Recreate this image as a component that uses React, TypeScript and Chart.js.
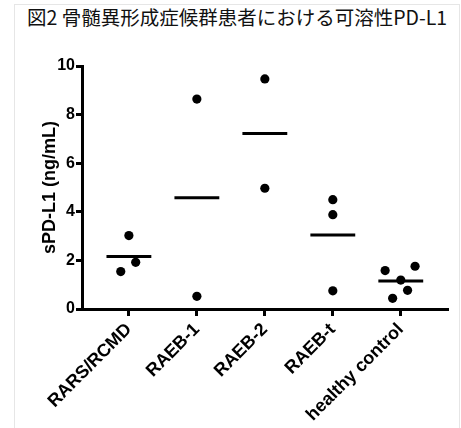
import { useEffect, useRef } from 'react';
import { Chart, registerables } from 'chart.js';

Chart.register(...registerables);

const titleText = '図2 骨髄異形成症候群患者における可溶性PD-L1';
const yAxisTitle = 'sPD-L1 (ng/mL)';
const categories = ['RARS/RCMD', 'RAEB-1', 'RAEB-2', 'RAEB-t', 'healthy control'];
const yTicks = [0, 2, 4, 6, 8, 10];

const rarsValues = [3.02, 1.54, 1.92];
const raeb1Values = [8.64, 0.52];
const raeb2Values = [9.47, 4.97];
const raebtValues = [4.5, 3.88, 0.75];
const healthyValues = [1.58, 1.76, 1.19, 0.77, 0.44];

// horizontal spread of dots within a group (category units)
const rarsJitter = [0, -0.12, 0.1];
const raeb1Jitter = [0, 0];
const raeb2Jitter = [0, 0];
const raebtJitter = [0, 0, 0];
const healthyJitter = [-0.23, 0.21, 0, 0.1, -0.12];

const groups = [
  { values: rarsValues, jitter: rarsJitter },
  { values: raeb1Values, jitter: raeb1Jitter },
  { values: raeb2Values, jitter: raeb2Jitter },
  { values: raebtValues, jitter: raebtJitter },
  { values: healthyValues, jitter: healthyJitter },
];

const FONT = "'Liberation Sans', Arial, sans-serif";

export default function App() {
  const ref = useRef<HTMLCanvasElement | null>(null);

  useEffect(() => {
    if (!ref.current) return;
    const points: { x: number; y: number }[] = [];
    groups.forEach((g, i) => {
      g.values.forEach((v, j) => points.push({ x: i + g.jitter[j], y: v }));
    });
    const meanSets = groups.map((g, i) => {
      const m = g.values.reduce((a, b) => a + b, 0) / g.values.length;
      return {
        type: 'scatter' as const,
        data: [
          { x: i - 0.33, y: m },
          { x: i + 0.33, y: m },
        ],
        showLine: true,
        borderColor: '#000',
        borderWidth: 3,
        pointRadius: 0,
        pointHoverRadius: 0,
      };
    });

    const chart = new Chart(ref.current, {
      type: 'scatter',
      data: {
        datasets: [
          {
            data: points,
            backgroundColor: '#000',
            borderWidth: 0,
            pointRadius: 4.6,
          },
          ...meanSets,
        ],
      },
      options: {
        animation: false,
        responsive: false,
        layout: { padding: { top: 66, right: 14, bottom: 0, left: 0 } },
        plugins: {
          legend: { display: false },
          tooltip: { enabled: false },
          title: { display: false },
        },
        scales: {
          x: {
            type: 'linear',
            min: -0.69,
            max: 4.68,
            afterBuildTicks: (s: any) => {
              s.ticks = categories.map((_, i) => ({ value: i }));
            },
            afterFit: (s: any) => {
              s.height = 119;
            },
            ticks: {
              autoSkip: false,
              minRotation: 45,
              maxRotation: 45,
              color: '#000',
              padding: 3,
              font: { family: FONT, size: 18, weight: 'bold' },
              callback: (v: any) => categories[Math.round(Number(v))] ?? '',
            },
            grid: {
              display: true,
              drawOnChartArea: false,
              drawTicks: true,
              tickLength: 7,
              lineWidth: 3,
              color: '#000',
            },
            border: { display: true, width: 3, color: '#000' },
          },
          y: {
            type: 'linear',
            min: 0,
            max: 10,
            afterBuildTicks: (s: any) => {
              s.ticks = yTicks.map((v) => ({ value: v }));
            },
            afterFit: (s: any) => {
              s.width = 82;
            },
            ticks: {
              color: '#000',
              padding: 1,
              font: { family: FONT, size: 16, weight: 'bold' },
            },
            grid: {
              display: true,
              drawOnChartArea: false,
              drawTicks: true,
              tickLength: 6,
              lineWidth: 3,
              color: '#000',
            },
            border: { display: true, width: 3, color: '#000' },
            title: {
              display: true,
              text: yAxisTitle,
              color: '#000',
              font: { family: FONT, size: 18, weight: 'bold' },
              padding: { top: 39, bottom: 0 },
            },
          },
        },
      },
    });
    return () => chart.destroy();
  }, []);

  return (
    <div style={{ position: 'fixed', left: 0, top: 0, width: 461, height: 428, background: '#fff' }}>
      <div
        style={{
          position: 'absolute',
          left: 14,
          top: 4,
          width: 444,
          height: 440,
          borderLeft: '1px solid #e6e6e6',
          borderTop: '1px solid #e6e6e6',
          borderRight: '1px solid #e6e6e6',
        }}
      />
      <div
        style={{
          position: 'absolute',
          left: 27,
          top: 5,
          lineHeight: '24px',
          fontSize: '19.5px',
          whiteSpace: 'nowrap',
          color: '#111',
          fontFamily: "'Noto Sans CJK JP', sans-serif",
        }}
      >
        {titleText}
      </div>
      <canvas ref={ref} width={461} height={428} style={{ position: 'absolute', left: 0, top: 0 }} />
    </div>
  );
}
